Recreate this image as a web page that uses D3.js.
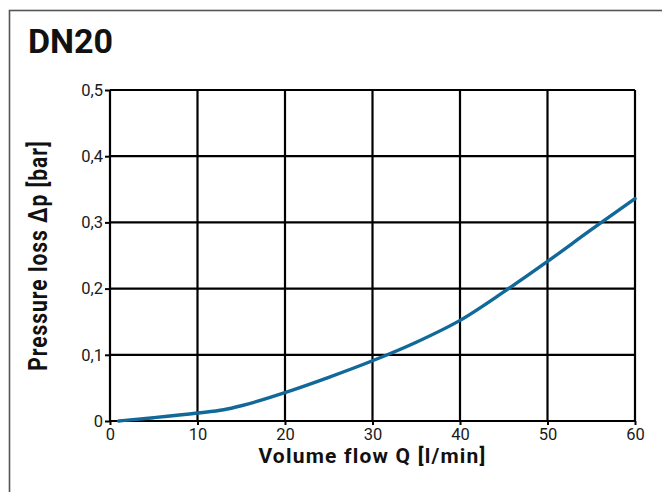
<!DOCTYPE html>
<html>
<head>
<meta charset="utf-8">
<script src="https://cdn.jsdelivr.net/npm/d3@7"></script>
<style>
  html, body { margin: 0; padding: 0; background: #fff; }
  svg { display: block; }
</style>
</head>
<body>
<svg id="chart" width="662" height="492"></svg>
<script>
// ---- data ----
const title = "DN20";
const xLabel = "Volume flow Q [l/min]";
const yLabel = "Pressure loss Δp [bar]";
const flowQ = [1, 5, 10, 13, 15, 20, 25, 30, 35, 40, 45, 50, 55, 60];
const pressureLoss = [0, 0.005, 0.012, 0.017, 0.023, 0.043, 0.066, 0.091, 0.119, 0.152, 0.195, 0.241, 0.289, 0.336];
const xTicks = [0, 10, 20, 30, 40, 50, 60];
const yTicks = [0, 0.1, 0.2, 0.3, 0.4, 0.5];
const yTickLabels = ["0", "0,1", "0,2", "0,3", "0,4", "0,5"];

// ---- layout ----
const svg = d3.select("#chart");
const plot = { left: 110, right: 635, top: 90, bottom: 421 };
const x = d3.scaleLinear().domain([0, 60]).range([plot.left, plot.right]);
const y = d3.scaleLinear().domain([0, 0.5]).range([plot.bottom, plot.top]);
const FONT = "Roboto, 'DejaVu Sans', sans-serif";

// outer frame (runs off right and bottom)
svg.append("rect")
  .attr("x", 9.5).attr("y", 10.5).attr("width", 700).attr("height", 600)
  .attr("fill", "none").attr("stroke", "#555").attr("stroke-width", 1.6);

// title
svg.append("text")
  .attr("x", 28).attr("y", 53)
  .attr("font-family", FONT).attr("font-weight", 700).attr("font-size", 34)
  .attr("fill", "#111")
  .text(title);

// grid
const grid = svg.append("g").attr("stroke", "#000").attr("stroke-width", 2.2);
grid.selectAll("line.v").data(xTicks).join("line")
  .attr("x1", d => x(d)).attr("x2", d => x(d))
  .attr("y1", y(0.5)).attr("y2", y(0));
grid.selectAll("line.h").data(yTicks).join("line")
  .attr("y1", d => y(d)).attr("y2", d => y(d))
  .attr("x1", x(0)).attr("x2", x(60));

// axes (ticks + labels)
const xAxis = d3.axisBottom(x).tickValues(xTicks).tickSize(4).tickPadding(3)
  .tickFormat(d => String(d));
const gx = svg.append("g").attr("transform", `translate(0,${plot.bottom})`).call(xAxis);
const yAxis = d3.axisLeft(y).tickValues(yTicks).tickSize(5).tickPadding(2)
  .tickFormat((d, i) => yTickLabels[i]);
const gy = svg.append("g").attr("transform", `translate(${plot.left},0)`).call(yAxis);
[gx, gy].forEach(g => {
  g.select(".domain").remove();
  g.selectAll(".tick line").attr("stroke", "#000").attr("stroke-width", 2);
  g.selectAll(".tick text")
    .attr("font-family", FONT).attr("font-size", 16.5).attr("fill", "#1a1a1a");
});

// curve
const line = d3.line()
  .x((d, i) => x(flowQ[i]))
  .y(d => y(d))
  .curve(d3.curveMonotoneX);
svg.append("path")
  .datum(pressureLoss)
  .attr("d", line)
  .attr("fill", "none")
  .attr("stroke", "#11699a")
  .attr("stroke-width", 3.4)
  .attr("stroke-linecap", "round");

// axis titles
svg.append("text")
  .attr("x", (plot.left + plot.right) / 2).attr("y", 463)
  .attr("text-anchor", "middle")
  .attr("font-family", FONT).attr("font-weight", 700).attr("font-size", 21)
  .attr("letter-spacing", 1.2)
  .attr("fill", "#111")
  .text(xLabel);

svg.append("text")
  .attr("transform", `translate(47,${(plot.top + plot.bottom) / 2}) rotate(-90) scale(1,1.25)`)
  .attr("text-anchor", "middle")
  .attr("font-family", FONT).attr("font-weight", 700).attr("font-size", 21)
  .attr("letter-spacing", 1.0)
  .attr("fill", "#111")
  .text(yLabel);
</script>
</body>
</html>
